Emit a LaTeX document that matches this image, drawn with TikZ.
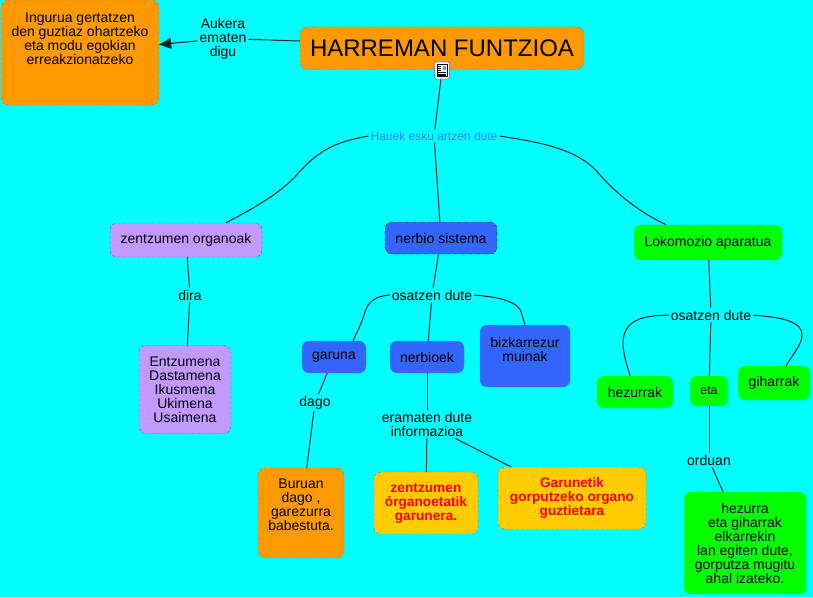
\documentclass[tikz,border=0pt]{standalone}
\usepackage{fontspec}
\setmainfont{Liberation Sans}
\usetikzlibrary{arrows.meta}

\definecolor{mapcyan}{HTML}{00FFFF}
\definecolor{orangefill}{HTML}{FF9900}
\definecolor{lilafill}{HTML}{C299FF}
\definecolor{bluefill}{HTML}{3366FF}
\definecolor{greenfill}{HTML}{00FF00}
\definecolor{yellowfill}{HTML}{FFCC00}
\definecolor{hauekblue}{HTML}{3385FF}
\definecolor{edgeteal}{HTML}{3F9FB0}

\tikzset{
    conceptbox/.style={rounded corners=7pt, align=center, inner sep=0pt, text=black,
        font=\fontsize{14}{14}\selectfont},
    orangebox/.style={conceptbox, fill=orangefill, draw=edgeteal, densely dashed},
    lilabox/.style={conceptbox, fill=lilafill, draw=bluefill, densely dashed},
    bluebox/.style={conceptbox, fill=bluefill, draw=bluefill!70!mapcyan},
    greenbox/.style={conceptbox, fill=greenfill, draw=greenfill!70!mapcyan},
    yellowbox/.style={conceptbox, fill=yellowfill, draw=edgeteal, densely dashed, text=red,
        font=\fontsize{13.7}{14}\selectfont\bfseries},
    linkword/.style={align=center, inner sep=2pt, text=black,
        font=\fontsize{14}{14}\selectfont},
    connect/.style={draw=black!85!mapcyan, line width=1pt}
}

\begin{document}
\begin{tikzpicture}[x=1pt, y=-1pt, >=Stealth]
    \useasboundingbox (0,0) rectangle (813,597);
    \fill[mapcyan] (0,0) rectangle (813,597);

    \node[orangebox, minimum width=284pt, minimum height=43pt, rounded corners=8pt,
        font=\fontsize{24}{26}\selectfont] (harreman) at (442,48) {HARREMAN FUNTZIOA};
    \node[orangebox, minimum width=158pt, minimum height=105pt] (ingurua) at (80,52.5)
        {Ingurua gertatzen\\den guztiaz ohartzeko\\eta modu egokian\\erreakzionatzeko\\[14pt]\mbox{}};
    \node[linkword] (aukera) at (223,38.5) {Aukera\\ematen\\digu};
    \node[draw=bluefill!80!white, fill=white, rounded corners=2pt, line width=0.8pt,
        minimum width=15pt, minimum height=17pt, inner sep=0pt] (fitxa) at (442,70.5) {};
    \draw[line width=0.7pt] (437,64.5) rectangle (447,76.5);
    \fill[bluefill!70!white] (442.5,65.5) rectangle (446,69.5);
    \foreach \yy in {66,68,70} {
        \draw[line width=0.6pt] (438,\yy) -- (441,\yy);
    }
    \foreach \yy in {72,74,75.5} {
        \draw[line width=0.6pt] (438,\yy) -- (446,\yy);
    }

    \node[linkword, text=hauekblue, font=\fontsize{12}{13}\selectfont] (hauek) at (434,136) {Hauek esku artzen dute};

    \node[lilabox, minimum width=152pt, minimum height=34pt] (zentzumen) at (186,240) {zentzumen organoak};
    \node[bluebox, draw=black!85!bluefill, dash dot, minimum width=112pt, minimum height=32pt] (nerbio) at (441,238) {nerbio sistema};
    \node[greenbox, minimum width=148pt, minimum height=35pt] (lokomozio) at (708,242.5) {Lokomozio aparatua};

    \node[linkword] (dira) at (190,295) {dira};
    \node[lilabox, minimum width=92pt, minimum height=88pt] (entzumena) at (185,389.5)
        {Entzumena\\Dastamena\\Ikusmena\\Ukimena\\Usaimena};

    \node[linkword] (osatzenA) at (432,295) {osatzen dute};
    \node[bluebox, minimum width=64pt, minimum height=32pt] (garuna) at (334,357) {garuna};
    \node[bluebox, minimum width=74pt, minimum height=32pt] (nerbioek) at (427,357) {nerbioek};
    \node[bluebox, minimum width=90pt, minimum height=62pt] (bizkarrezur) at (525,356)
        {bizkarrezur\\muinak\\\mbox{}};

    \node[linkword] (osatzenB) at (711,315) {osatzen dute};
    \node[greenbox, minimum width=76pt, minimum height=32pt] (hezurrak) at (635,392) {hezurrak};
    \node[greenbox, minimum width=38pt, minimum height=30pt, font=\fontsize{12.5}{13}\selectfont] (eta) at (709,391) {eta};
    \node[greenbox, minimum width=72pt, minimum height=34pt] (giharrak) at (774,383) {giharrak};

    \node[linkword] (dago) at (315,402.5) {dago};
    \node[orangebox, minimum width=86pt, minimum height=90pt] (buruan) at (301,513)
        {Buruan\\dago ,\\garezurra\\babestuta.\\[2pt]\mbox{}};

    \node[linkword] (eramaten) at (427,424) {eramaten dute\\informazioa};
    \node[yellowbox, minimum width=104pt, minimum height=62pt] (organoetatik) at (426,503)
        {zentzumen\\órganoetatik\\garunera.};
    \node[yellowbox, minimum width=148pt, minimum height=62pt] (garunetik) at (572,498)
        {Garunetik\\gorputzeko organo\\guztietara};

    \node[linkword] (orduan) at (709,460) {orduan};
    \node[greenbox, minimum width=122pt, minimum height=102pt] (hezurra) at (745,543)
        {hezurra\\eta giharrak\\elkarrekin\\lan egiten dute,\\gorputza mugitu\\ahal izateko.};

    \draw[connect] ([yshift=7pt]harreman.west) -- (aukera);
    \draw[connect, -{Triangle[length=12pt, width=11pt]}] (aukera) -- ([yshift=8pt]ingurua.east);
    \draw[connect] (fitxa) -- (hauek);
    \draw[connect] (hauek) -- (nerbio);
    \draw[connect] (hauek.west) .. controls (335,142) and (318,150) .. (295,177)
        .. controls (275,197) and (250,210) .. ([xshift=40pt]zentzumen.north);
    \draw[connect] (hauek.east) .. controls (545,143) and (580,150) .. (600,175)
        .. controls (620,197) and (640,212) .. ([xshift=-42pt]lokomozio.north);

    \draw[connect] (zentzumen) -- (dira);
    \draw[connect] (dira) -- (entzumena);

    \draw[connect] (nerbio) -- (osatzenA);
    \draw[connect] (osatzenA) -- (nerbioek);
    \draw[connect] (osatzenA.west) .. controls (375,296) and (368,302) .. (365,312)
        .. controls (361,325) and (357,332) .. ([xshift=19pt]garuna.north);
    \draw[connect] (osatzenA.east) .. controls (495,297) and (520,300) .. (522,315)
        -- (bizkarrezur.north);

    \draw[connect] (lokomozio) -- (osatzenB);
    \draw[connect] (osatzenB) -- (eta);
    \draw[connect] (osatzenB.west) .. controls (650,316) and (622,316) .. (623,345)
        .. controls (624,358) and (628,368) .. ([xshift=-5pt]hezurrak.north);
    \draw[connect] (osatzenB.east) .. controls (770,317) and (802,318) .. (802,335)
        .. controls (802,345) and (792,355) .. ([xshift=12pt]giharrak.north);

    \draw[connect] (garuna) -- (dago);
    \draw[connect] (dago) -- (buruan);

    \draw[connect] (nerbioek) -- (eramaten);
    \draw[connect] (eramaten) -- (organoetatik);
    \draw[connect] (eramaten) -- ([xshift=-61pt]garunetik.north);

    \draw[connect] (eta) -- (orduan);
    \draw[connect] (orduan) -- ([xshift=-22pt]hezurra.north);
\end{tikzpicture}
\end{document}
